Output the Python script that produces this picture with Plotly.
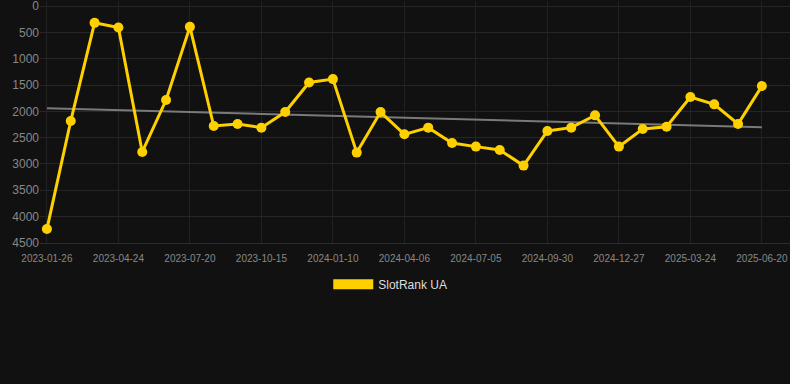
import numpy as np
import plotly.graph_objects as go

dates = ["2023-01-26", "2023-02-24", "2023-03-25", "2023-04-24", "2023-05-23", "2023-06-21",
         "2023-07-20", "2023-08-18", "2023-09-16", "2023-10-15", "2023-11-13", "2023-12-12",
         "2024-01-10", "2024-02-08", "2024-03-08", "2024-04-06", "2024-05-06", "2024-06-05",
         "2024-07-05", "2024-08-03", "2024-09-01", "2024-09-30", "2024-10-29", "2024-11-28",
         "2024-12-27", "2025-01-25", "2025-02-23", "2025-03-24", "2025-04-22", "2025-05-22",
         "2025-06-20"]
rank = [4240, 2184, 316, 405, 2773, 1785, 392, 2279, 2241, 2310, 2013, 1450, 1386, 2785, 2013,
        2437, 2310, 2602, 2671, 2735, 3032, 2374, 2310, 2076, 2671, 2336, 2292, 1728, 1867, 2241,
        1519]
tick_labels = dates[::3]
y_ticks = [0, 500, 1000, 1500, 2000, 2500, 3000, 3500, 4000, 4500]
series_name = "SlotRank UA"

idx = np.arange(len(rank))
slope, intercept = np.polyfit(idx, rank, 1)
trend = (slope * idx + intercept).tolist()

gold = "#FFD000"
font = "Liberation Sans, Arial, sans-serif"

fig = go.Figure()
fig.add_trace(go.Scatter(x=dates, y=trend, mode="lines",
                         line=dict(color="#7a7a7a", width=2), showlegend=False,
                         hoverinfo="skip"))
fig.add_trace(go.Scatter(x=dates, y=rank, mode="lines+markers",
                         line=dict(color=gold, width=3),
                         marker=dict(color=gold, size=10), showlegend=False,
                         name=series_name))
fig.add_trace(go.Scatter(x=[None], y=[None], mode="lines",
                         line=dict(color=gold, width=12), name=series_name,
                         showlegend=True))

fig.update_layout(
    width=790, height=384,
    paper_bgcolor="#111111", plot_bgcolor="#111111",
    margin=dict(l=40, r=0, t=1, b=141),
    font=dict(family=font, color="#888888"),
    legend=dict(orientation="h", x=0.467, xanchor="center", y=-0.17, yanchor="middle",
                font=dict(size=12, color="#dddddd", family=font),
                itemwidth=40, bgcolor="rgba(0,0,0,0)"),
)
fig.update_xaxes(type="category", categoryorder="array", categoryarray=dates,
                 tickmode="array", tickvals=tick_labels, ticktext=tick_labels,
                 range=[-0.29, 31.18], showgrid=True, gridcolor="#222222",
                 tickfont=dict(size=10, color="#888888"), showline=True,
                 linecolor="#2c2c2c", linewidth=1, ticklabeloverflow="allow",
                 zeroline=False, ticks="", ticklabelstandoff=6)
fig.update_yaxes(range=[4505, -100], tickmode="array", tickvals=y_ticks,
                 showgrid=True, gridcolor="#262626", zeroline=False,
                 ticklabeloverflow="allow",
                 tickfont=dict(size=12, color="#888888"), ticks="", showline=False)

fig.write_html("out.html", config={"displayModeBar": False},
               post_script="document.body.style.margin='0';document.body.style.background='#111111';")
